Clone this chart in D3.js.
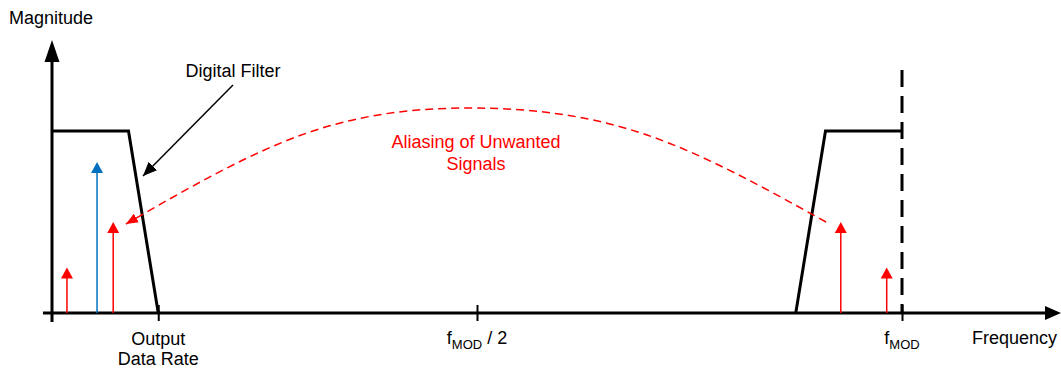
<!DOCTYPE html>
<html><head><meta charset="utf-8">
<script src="https://cdn.jsdelivr.net/npm/d3@7"></script>
<style>body{margin:0;background:#fff}svg{display:block}text{font-family:"Liberation Sans",Arial,sans-serif}</style>
</head><body>
<svg id="c" width="1061" height="370"></svg>
<script>
// ---- data (frequency normalised to fMOD, magnitude normalised to filter passband) ----
const filterLow = [[0, 1], [0.09, 1], [0.125, 0]];
const filterImage = [[0.875, 0], [0.91, 1], [1, 1]];
const redSignals = [[0.0176, 0.25], [0.072, 0.5], [0.928, 0.5], [0.982, 0.25]];
const blueSignals = [[0.053, 0.83]];
const aliasPath = [[0.9106, 0.5], [0.7, 0.978], [0.5, 1.126], [0.3, 0.989], [0.087, 0.489]];
const tickValues = [0, 0.125, 0.5, 1];
const tickLabels = [[""], ["Output", "Data Rate"], ["f", "MOD", " / 2"], ["f", "MOD", ""]];
const dashLineTop = 1.335;
const axisTop = 1.5;

const svg = d3.select("#c");
const x = d3.scaleLinear().domain([0, 1]).range([52, 902]);
const y = d3.scaleLinear().domain([0, 1]).range([313, 131]);

// y axis
svg.append("line").attr("x1", x(0)).attr("x2", x(0)).attr("y1", 322).attr("y2", y(axisTop) + 20)
  .attr("stroke", "#000").attr("stroke-width", 3);
svg.append("path").attr("d", `M${x(0)},${y(axisTop)} L${x(0) - 7.5},${y(axisTop) + 22} L${x(0) + 7.5},${y(axisTop) + 22}Z`).attr("fill", "#000");
// x axis
svg.append("line").attr("x1", 43).attr("x2", 1048).attr("y1", y(0)).attr("y2", y(0))
  .attr("stroke", "#000").attr("stroke-width", 3);
svg.append("path").attr("d", `M1061,${y(0)} L1045,${y(0) - 7} L1045,${y(0) + 7}Z`).attr("fill", "#000");

// ticks via d3 axis
const ax = svg.append("g").attr("transform", `translate(0,${y(0)})`)
  .call(d3.axisBottom(x).tickValues(tickValues.slice(1)).tickSize(0).tickFormat(""));
ax.select(".domain").remove();
ax.selectAll(".tick").append("line").attr("y1", -8).attr("y2", 8).attr("stroke", "#000").attr("stroke-width", 2);

// tick labels
tickValues.forEach((v, i) => {
  const lab = tickLabels[i];
  if (i === 1) {
    svg.append("text").attr("x", x(v)).attr("y", 345).attr("text-anchor", "middle").attr("font-size", 18).text(lab[0]);
    svg.append("text").attr("x", x(v)).attr("y", 365).attr("text-anchor", "middle").attr("font-size", 18).text(lab[1]);
  } else if (i > 1) {
    const t = svg.append("text").attr("x", x(v)).attr("y", 344).attr("text-anchor", "middle").attr("font-size", 18);
    t.append("tspan").text(lab[0]);
    t.append("tspan").attr("font-size", 13).attr("dy", 5).text(lab[1]);
    if (lab[2]) t.append("tspan").attr("dy", -5).text(lab[2]);
  }
});

// axis titles
svg.append("text").attr("x", 9).attr("y", 24).attr("font-size", 18).text("Magnitude");
svg.append("text").attr("x", 972).attr("y", 344).attr("font-size", 18).text("Frequency");

// filter outlines
const line = d3.line().x(d => x(d[0])).y(d => y(d[1]));
[filterLow, filterImage].forEach(f => svg.append("path").attr("d", line(f)).attr("fill", "none")
  .attr("stroke", "#000").attr("stroke-width", 3).attr("stroke-linejoin", "miter"));
// fMOD dashed line
svg.append("line").attr("x1", x(1)).attr("x2", x(1)).attr("y1", y(dashLineTop)).attr("y2", y(0))
  .attr("stroke", "#000").attr("stroke-width", 3).attr("stroke-dasharray", "17,9");

// signal arrows
function signal(d, color) {
  const tipY = y(d[1]), xx = x(d[0]);
  svg.append("line").attr("x1", xx).attr("x2", xx).attr("y1", y(0)).attr("y2", tipY + 8)
    .attr("stroke", color).attr("stroke-width", 1.5);
  svg.append("path").attr("d", `M${xx},${tipY} L${xx - 6},${tipY + 11} L${xx + 6},${tipY + 11}Z`).attr("fill", color);
}
redSignals.forEach(d => signal(d, "#ff0000"));
blueSignals.forEach(d => signal(d, "#0070c0"));

// markers
const defs = svg.append("defs");
defs.append("marker").attr("id", "mr").attr("viewBox", "0 0 12 10").attr("refX", 12).attr("refY", 5)
  .attr("markerWidth", 12).attr("markerHeight", 10).attr("markerUnits", "userSpaceOnUse").attr("orient", "auto")
  .append("path").attr("d", "M0,0 L12,5 L0,10Z").attr("fill", "#ff0000");
defs.append("marker").attr("id", "mk").attr("viewBox", "0 0 14 12").attr("refX", 14).attr("refY", 6)
  .attr("markerWidth", 14).attr("markerHeight", 12).attr("markerUnits", "userSpaceOnUse").attr("orient", "auto")
  .append("path").attr("d", "M0,0 L14,6 L0,12Z").attr("fill", "#000");

// aliasing arc
svg.append("path").attr("d", d3.line().x(d => x(d[0])).y(d => y(d[1])).curve(d3.curveNatural)(aliasPath))
  .attr("fill", "none").attr("stroke", "#ff0000").attr("stroke-width", 1.5).attr("stroke-dasharray", "8,5")
  .attr("marker-end", "url(#mr)");
svg.append("text").attr("x", 476).attr("y", 148).attr("text-anchor", "middle").attr("font-size", 18).attr("fill", "#ff0000").text("Aliasing of Unwanted");
svg.append("text").attr("x", 476).attr("y", 170).attr("text-anchor", "middle").attr("font-size", 18).attr("fill", "#ff0000").text("Signals");

// digital filter label + pointer
svg.append("text").attr("x", 233).attr("y", 77).attr("text-anchor", "middle").attr("font-size", 18).text("Digital Filter");
svg.append("line").attr("x1", 233).attr("y1", 85).attr("x2", 143).attr("y2", 176)
  .attr("stroke", "#000").attr("stroke-width", 1.5).attr("marker-end", "url(#mk)");
</script>
</body></html>
